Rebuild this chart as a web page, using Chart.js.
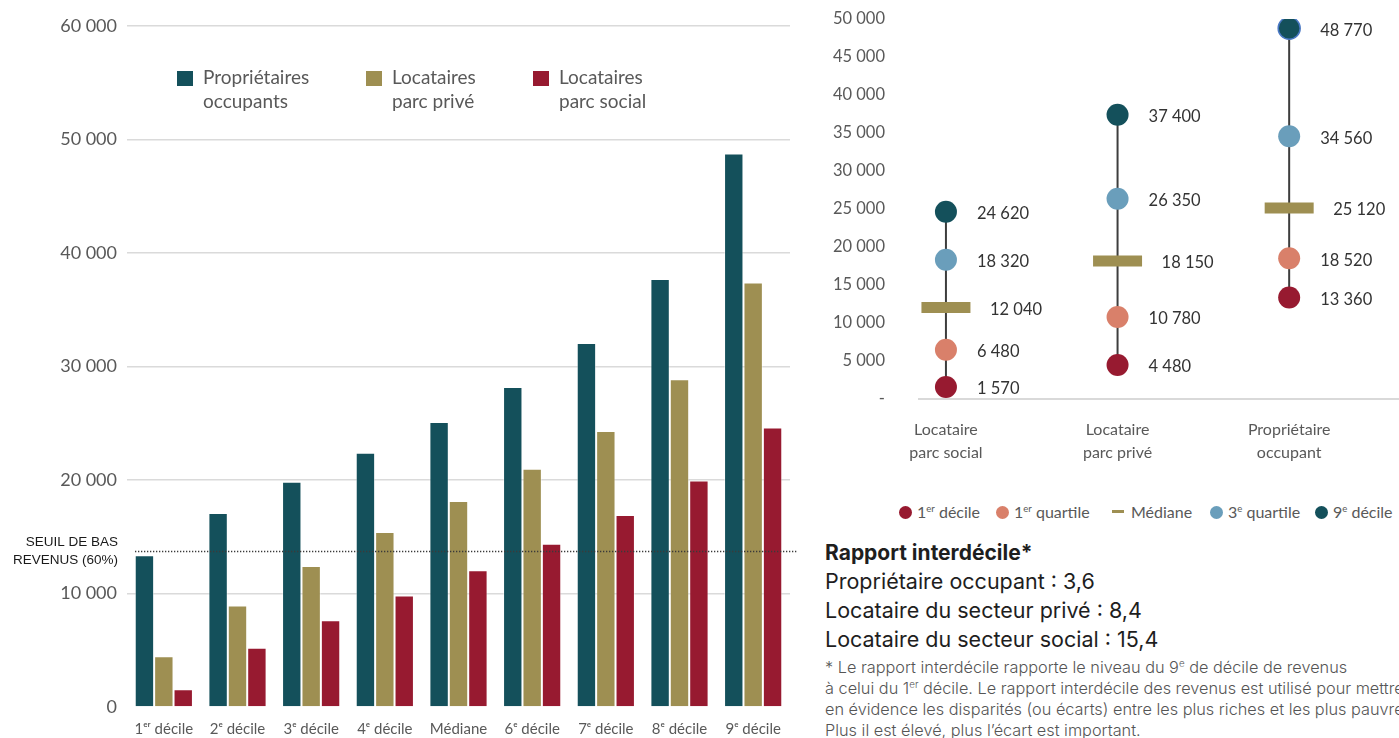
<!DOCTYPE html>
<html lang="fr">
<head>
<meta charset="utf-8">
<script src="https://cdn.jsdelivr.net/npm/chart.js@4.4.1/dist/chart.umd.min.js"></script>
<style>
  body { margin: 0; width: 1399px; height: 738px; overflow: hidden; background: #fff; position: relative; font-family: Lato, sans-serif; }
  #barChart { position: absolute; left: 0; top: 0; }
  /* the y ticks padding is also added above the axis, hence the shift */
  #rangeChart { position: absolute; left: 800px; top: -25px; }
  .lg { position: absolute; color: #595959; font-size: 19px; line-height: 24px; white-space: nowrap; }
  .lg i { position: absolute; left: -26px; top: 6px; width: 16px; height: 15px; }
  .rl { position: absolute; top: 500px; color: #595959; font-size: 16px; line-height: 24px; white-space: nowrap; }
  .rl i { display: inline-block; width: 13px; height: 13px; border-radius: 50%; vertical-align: -1px; margin-right: 5px; }
  .rl i.dash { width: 12px; height: 3px; border-radius: 0; vertical-align: 5px; margin-right: 7px; }
  sup { font-size: 0.6em; line-height: 0; vertical-align: 0.6em; }
  #notes { position: absolute; left: 825px; top: 538px; white-space: nowrap; font-family: Inter, sans-serif; color: #1e1e1e; }
  #notes .h { font-size: 21px; font-weight: 700; line-height: 29px; }
  #notes .r { font-size: 21.5px; line-height: 29px; }
  #notes .fn { font-size: 16.3px; line-height: 21px; color: #555; font-weight: 300; margin-top: 3px; }
</style>
</head>
<body>
<canvas id="barChart" width="800" height="738"></canvas>
<canvas id="rangeChart" width="599" height="505"></canvas>

<div class="lg" style="left:203px;top:65px"><i style="background:#14505b"></i>Propriétaires<br>occupants</div>
<div class="lg" style="left:392px;top:65px"><i style="background:#9e8f52"></i>Locataires<br>parc privé</div>
<div class="lg" style="left:559px;top:65px"><i style="background:#971a30"></i>Locataires<br>parc social</div>

<div class="rl" style="left:899px"><i style="background:#971a30"></i>1<sup>er</sup> décile</div>
<div class="rl" style="left:996px"><i style="background:#d9806a"></i>1<sup>er</sup> quartile</div>
<div class="rl" style="left:1112px"><i class="dash" style="background:#9e8f52"></i>Médiane</div>
<div class="rl" style="left:1210px"><i style="background:#6a9ebb"></i>3<sup>e</sup> quartile</div>
<div class="rl" style="left:1315px"><i style="background:#14505b"></i>9<sup>e</sup> décile</div>

<div id="notes">
  <div class="h">Rapport interdécile*</div>
  <div class="r">Propriétaire occupant : 3,6</div>
  <div class="r">Locataire du secteur privé : 8,4</div>
  <div class="r">Locataire du secteur social : 15,4</div>
  <div class="fn">* Le rapport interdécile rapporte le niveau du 9<sup>e</sup> de décile de revenus<br>à celui du 1<sup>er</sup> décile. Le rapport interdécile des revenus est utilisé pour mettre<br>en évidence les disparités (ou écarts) entre les plus riches et les plus pauvres.<br>Plus il est élevé, plus l’écart est important.</div>
</div>

<script>
// Revenus par décile et statut d'occupation
const deciles = ['1ᵉʳ décile', '2ᵉ décile', '3ᵉ décile', '4ᵉ décile', 'Médiane', '6ᵉ décile', '7ᵉ décile', '8ᵉ décile', '9ᵉ décile'];
const proprietaires = [13360, 17090, 19850, 22410, 25120, 28200, 32080, 37720, 48770];
const locatairesPrive = [4480, 8940, 12420, 15410, 18150, 21000, 24320, 28870, 37400];
const locatairesSocial = [1570, 5210, 7650, 9820, 12040, 14380, 16910, 19960, 24620];
const seuilBasRevenus = 13770;

// Distribution par statut (1er décile -> 9e décile)
const statuts = [['Locataire', 'parc social'], ['Locataire', 'parc privé'], ['Propriétaire', 'occupant']];
const decile1 = [1570, 4480, 13360];
const quartile1 = [6480, 10780, 18520];
const mediane = [12040, 18150, 25120];
const quartile3 = [18320, 26350, 34560];
const decile9 = [24620, 37400, 48770];

const TEAL = '#14505b', GOLD = '#9e8f52', RED = '#971a30', SALMON = '#d9806a', BLUE = '#6a9ebb';

function fmt(v) {
  return String(v).replace(/\B(?=(\d{3})+(?!\d))/g, ' ');
}

// ligne pointillée du seuil de bas revenus
const seuilPlugin = {
  id: 'seuil',
  afterDatasetsDraw(chart) {
    const { ctx, chartArea, scales: { y } } = chart;
    const py = Math.round(y.getPixelForValue(seuilBasRevenus)) + 0.5;
    ctx.save();
    ctx.strokeStyle = '#3a3a3a';
    ctx.lineWidth = 1.3;
    ctx.setLineDash([1.3, 1.7]);
    ctx.beginPath();
    ctx.moveTo(chartArea.left + 8, py);
    ctx.lineTo(chartArea.right + 7, py);
    ctx.stroke();
    ctx.setLineDash([]);
    ctx.fillStyle = '#1a1a1a';
    ctx.font = '13.5px "Liberation Sans", Arial, sans-serif';
    ctx.textAlign = 'right';
    ctx.textBaseline = 'middle';
    ctx.fillText('SEUIL DE BAS', chartArea.left - 9, py - 9);
    ctx.fillText('REVENUS (60%)', chartArea.left - 9, py + 9);
    ctx.restore();
  }
};

new Chart(document.getElementById('barChart'), {
  type: 'bar',
  data: {
    labels: deciles,
    datasets: [
      { label: 'Propriétaires occupants', data: proprietaires, backgroundColor: TEAL },
      { label: 'Locataires parc privé', data: locatairesPrive, backgroundColor: GOLD },
      { label: 'Locataires parc social', data: locatairesSocial, backgroundColor: RED }
    ].map(d => Object.assign(d, { borderColor: 'rgba(255,255,255,0.45)', borderWidth: 1, categoryPercentage: 0.79, barPercentage: 1 }))
  },
  options: {
    responsive: false,
    animation: false,
    layout: { autoPadding: false, padding: { top: 26, right: 10, left: 0, bottom: 0 } },
    plugins: { legend: { display: false }, tooltip: { enabled: false } },
    scales: {
      x: {
        grid: { display: false },
        border: { display: false },
        ticks: { color: '#595959', font: { family: 'Lato', size: 15 }, padding: 5, maxRotation: 0 },
        afterFit(scale) { scale.height = 31; }
      },
      y: {
        min: 0,
        max: 60000,
        grid: {
          drawTicks: false,
          lineWidth: 1.5,
          color: ctx => ctx.tick && ctx.tick.value === 0 ? 'rgba(0,0,0,0)' : '#dadada'
        },
        border: { display: false },
        ticks: { stepSize: 10000, color: '#595959', font: { family: 'Lato', size: 18 }, padding: 10, callback: v => fmt(v) },
        afterFit(scale) { scale.width = 127; }
      }
    }
  },
  plugins: [seuilPlugin]
});

// valeurs écrites à droite de chaque marqueur
const valeursPlugin = {
  id: 'valeurs',
  afterDatasetsDraw(chart) {
    const { ctx } = chart;
    ctx.save();
    ctx.fillStyle = '#333';
    ctx.font = '16.5px Lato, sans-serif';
    ctx.textAlign = 'left';
    ctx.textBaseline = 'middle';
    chart.data.datasets.forEach((ds, di) => {
      if (!ds.labelOffset) return;
      chart.getDatasetMeta(di).data.forEach((pt, i) => {
        ctx.fillText(fmt(ds.data[i].y), pt.x + ds.labelOffset, pt.y + 2);
      });
    });
    ctx.restore();
  }
};

const points = arr => arr.map((v, i) => ({ x: i, y: v }));

// trait vertical du 1er au 9e décile pour chaque statut
const traits = statuts.map((_, i) => ({
  type: 'line',
  data: [{ x: i, y: decile1[i] }, { x: i, y: decile9[i] }],
  borderColor: '#3d3d3d',
  borderWidth: 2,
  pointRadius: 0,
  order: 10
}));

new Chart(document.getElementById('rangeChart'), {
  type: 'scatter',
  data: {
    datasets: traits.concat([
      { label: '1er décile', data: points(decile1), pointRadius: 11, backgroundColor: RED, pointBorderWidth: 0, labelOffset: 31 },
      { label: '1er quartile', data: points(quartile1), pointRadius: 11, backgroundColor: SALMON, pointBorderWidth: 0, labelOffset: 31 },
      { label: 'Médiane', data: points(mediane), pointStyle: 'line', pointRadius: 24.5, pointBorderWidth: 11, borderColor: GOLD, labelOffset: 44 },
      { label: '3e quartile', data: points(quartile3), pointRadius: 11, backgroundColor: BLUE, pointBorderWidth: 0, labelOffset: 31 },
      {
        label: '9e décile', data: points(decile9), pointRadius: 11, backgroundColor: TEAL,
        pointBorderColor: [TEAL, TEAL, '#4a78c4'], pointBorderWidth: [0, 0, 1.5], labelOffset: 31
      }
    ])
  },
  options: {
    responsive: false,
    animation: false,
    layout: { autoPadding: false, padding: { top: 19, right: 0, left: 0, bottom: 0 } },
    plugins: { legend: { display: false }, tooltip: { enabled: false } },
    scales: {
      x: {
        type: 'linear',
        min: -0.157,
        max: 2.64,
        offset: false,
        grid: { display: false },
        border: { display: true, color: '#d9d9d9', width: 2 },
        afterBuildTicks(scale) { scale.ticks = statuts.map((_, i) => ({ value: i })); },
        ticks: {
          color: '#595959',
          font: { family: 'Lato', size: 16, lineHeight: 1.45 },
          padding: 11,
          maxRotation: 0,
          callback: v => statuts[v] || ''
        },
        afterFit(scale) { scale.height = 81; }
      },
      y: {
        min: 0,
        max: 50000,
        grid: { display: false, drawTicks: false },
        border: { display: false },
        ticks: {
          stepSize: 5000,
          color: '#595959',
          font: { family: 'Lato', size: 16.5 },
          padding: 34,
          callback: v => v === 0 ? '-' : fmt(v)
        },
        afterFit(scale) { scale.width = 119; }
      }
    }
  },
  plugins: [valeursPlugin]
});
</script>
</body>
</html>
